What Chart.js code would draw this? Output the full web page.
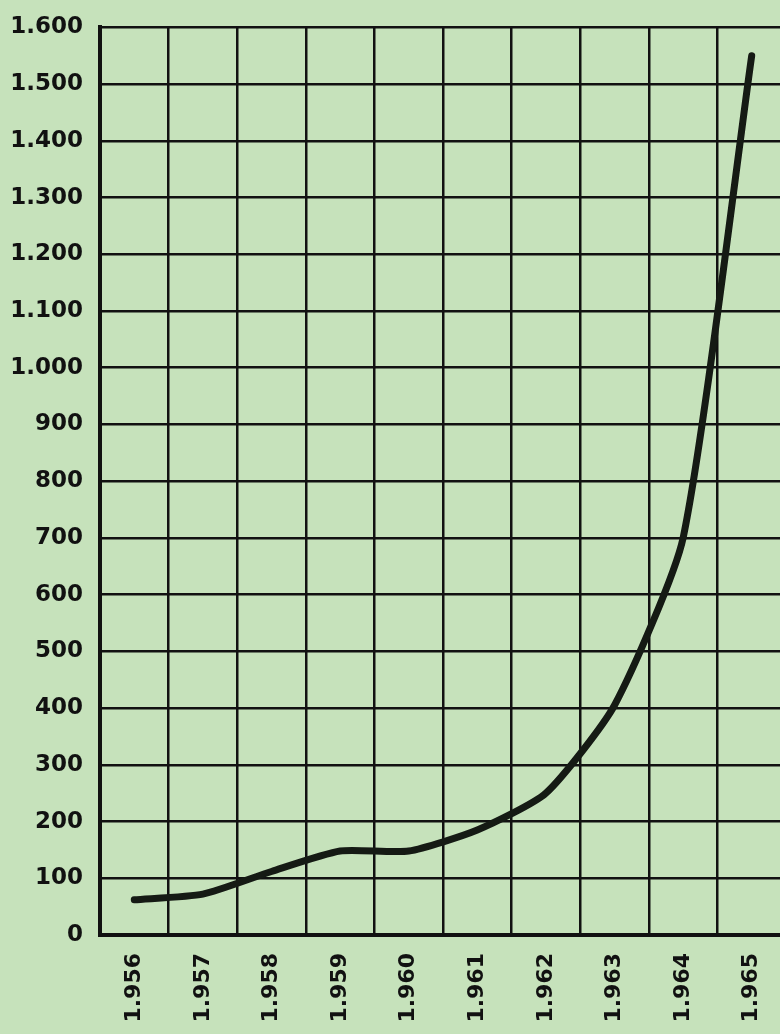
<!DOCTYPE html>
<html>
<head>
<meta charset="utf-8">
<script src="https://cdn.jsdelivr.net/npm/chart.js@4"></script>
<style>
  html, body { margin: 0; padding: 0; background: #c6e2bb; overflow: hidden; }
  #wrap { width: 800px; height: 1034px; }
</style>
</head>
<body>
<div id="wrap"><canvas id="chart"></canvas></div>
<script>
const years = ["1.956", "1.957", "1.958", "1.959", "1.960", "1.961", "1.962", "1.963", "1.964", "1.965"];
const values = [62, 72, 112, 148, 148, 185, 250, 405, 700, 1550];
const yTickLabels = ["0", "100", "200", "300", "400", "500", "600", "700", "800", "900",
  "1.000", "1.100", "1.200", "1.300", "1.400", "1.500", "1.600"];

const ctx = document.getElementById("chart").getContext("2d");

// chart runs a little past the right edge of the page, like the scanned original
new Chart(ctx, {
  type: "line",
  data: {
    labels: years,
    datasets: [
      {
        data: values,
        borderColor: "#151a14",
        borderWidth: 7,
        pointRadius: 0,
        tension: 0.2,
        borderCapStyle: "round",
        borderJoinStyle: "round",
      },
    ],
  },
  options: {
    responsive: true,
    maintainAspectRatio: false,
    animation: false,
    layout: {
      padding: { top: 20, right: 14, left: 0, bottom: 0 },
    },
    scales: {
      x: {
        offset: true,
        grid: {
          offset: true,
          color: "#111",
          lineWidth: 2.5,
          drawTicks: false,
        },
        border: { color: "#111", width: 4 },
        ticks: {
          color: "#111",
          maxRotation: 90,
          minRotation: 90,
          padding: 18,
          font: { family: "DejaVu Sans", size: 22, weight: "bold" },
        },
        afterFit: (scale) => {
          scale.height = 99;
        },
      },
      y: {
        min: 0,
        max: 1600,
        ticks: {
          stepSize: 100,
          color: "#111",
          padding: 17,
          font: { family: "DejaVu Sans", size: 23, weight: "bold", lineHeight: 0.9 },
          callback: (value, index) => yTickLabels[index],
        },
        grid: {
          color: "#111",
          lineWidth: 2.5,
          drawTicks: false,
        },
        border: { color: "#111", width: 4 },
        afterFit: (scale) => {
          scale.width = 100;
        },
      },
    },
    plugins: {
      legend: { display: false },
      tooltip: { enabled: false },
    },
  },
});
</script>
</body>
</html>
